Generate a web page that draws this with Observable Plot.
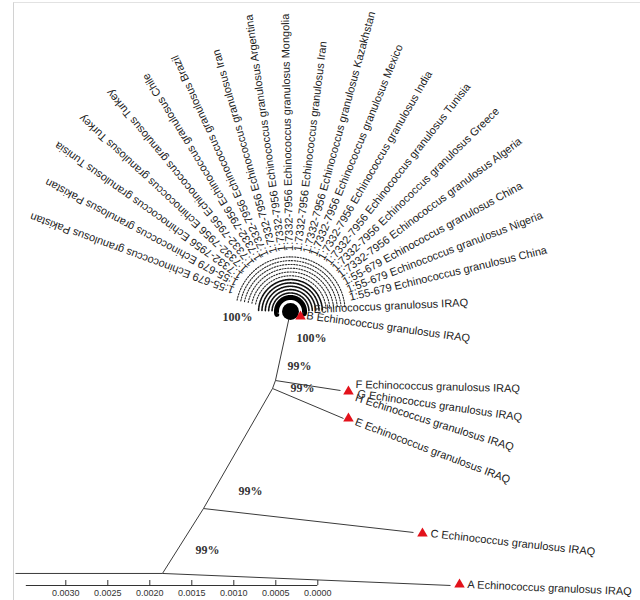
<!DOCTYPE html>
<html><head><meta charset="utf-8">
<script src="https://cdn.jsdelivr.net/npm/d3@7"></script>
<script src="https://cdn.jsdelivr.net/npm/@observablehq/plot@0.6"></script>
<style>
html,body{margin:0;padding:0;background:#fff;}
#wrap{position:relative;width:640px;height:600px;overflow:hidden;}
#wrap svg{display:block;}
#frame{position:absolute;left:13px;top:2px;right:-2px;bottom:-2px;border-left:1px solid #d2d2d2;border-top:1px solid #e2e2e2;pointer-events:none;}
</style></head>
<body><div id="wrap"></div>
<script>
// All distances are in units of 0.0001 substitutions/site (scale bar units).
// x = distance measured leftwards from the 0.0000 mark, y = distance down from top.
const scaleTicks = [30, 25, 20, 15, 10, 5, 0];
const scaleBar = [34.7, 0];

// tree nodes
const nodeNames = ["base", "root", "n1", "n2", "n3", "fan", "A", "C", "E", "FGH"];
const nodeX = [35.99, 18.49, 13.61, 5.39, 5.04, 3.25, -15.80, -11.39, -3.06, -2.70];
const nodeY = [68.21, 68.21, 60.48, 46.19, 45.24, 37.02, 69.64, 63.33, 49.76, 46.43];
const edgeFrom = ["base", "root", "root", "n1", "n1", "n2", "n2", "n3", "n3"];
const edgeTo   = ["root", "A",    "n1",   "C",  "n2", "E",  "n3", "FGH", "fan"];

// IRAQ isolates (triangle markers)
const markerX = [-16.87, -12.46, -3.65, -3.65, 2.06];
const markerY = [69.52, 63.45, 46.55, 49.76, 37.62];

// IRAQ leaf labels
const leafLabels = [
  "A Echinococcus granulosus IRAQ",
  "C Echinococcus granulosus IRAQ",
  "F Echinococcus granulosus IRAQ",
  "G Echinococcus granulosus IRAQ",
  "H Echinococcus granulosus IRAQ",
  "E Echinococcus granulosus IRAQ",
  "Echinococcus granulosus IRAQ",
  "B Echinococcus granulosus IRAQ"
];
const leafX = [-17.82, -13.42, -4.49, -4.73, -4.49, -4.49, 0.51, 1.35];
const leafY = [69.52, 63.45, 45.71, 46.79, 47.26, 50.12, 36.79, 37.50];
const leafAngle = [2.5, 6.4, 1.5, 8.3, 17.6, 20.8, -2.6, 8];

// reference sequences in the collapsed fan
const fanPrefix = [
  "1:55-679", "1:55-679", "1:7332-7956", "1:7332-7956", "1:7332-7956",
  "1:7332-7956", "1:7332-7956", "1:7332-7956", "1:7332-7956", "1:7332-7956",
  "1:7332-7956", "1:7332-7956", "1:7332-7956", "1:7332-7956", "1:7332-7956",
  "1:7332-7956", "1:7332-7956", "1:55-679", "1:55-679", "1:55-679"
];
const fanCountry = [
  "Pakistan", "Pakistan", "Tunisia", "Turkey", "Turkey",
  "Chile", "Brazil", "Iran", "Argentina", "Mongolia",
  "Iran", "Kazakhstan", "Mexico", "India", "Tunisia",
  "Greece", "Algeria", "China", "Nigeria", "China"
];
const fanAngle = [-159.9, -152, -144.5, -137.1, -129.5, -121.5, -114.4, -105.9, -98, -91,
                  -83.1, -74.8, -67.7, -59.9, -51.9, -44.3, -36.7, -28.7, -21, -13.5];
const fanCenter = [3.25, 37.02];
const fanStart = 7.2;

// collapsed core rings of the fan (inner dense, outer sparse)
const coreRingsInner = [2.20, 2.60, 3.00, 3.40, 3.80];
const coreRingsOuter = [4.25, 4.70, 5.15, 5.60, 6.05, 6.50];
const coreBand = 1.67;

// bootstrap support
const bootText = ["100%", "100%", "99%", "99%", "99%", "99%"];
const bootX = [9.56, 0.75, 2.18, 1.82, 8.01, 13.13];
const bootY = [37.74, 40.24, 43.57, 46.19, 58.45, 65.48];

// ---- build tables
const nodes = new Map(nodeNames.map((n, i) => [n, {x: nodeX[i], y: nodeY[i]}]));
const edges = edgeFrom.map((f, i) => ({x1: nodes.get(f).x, y1: nodes.get(f).y, x2: nodes.get(edgeTo[i]).x, y2: nodes.get(edgeTo[i]).y}));
const markers = markerX.map((x, i) => ({x, y: markerY[i]}));
const leaves = leafLabels.map((t, i) => ({t, x: leafX[i], y: leafY[i], a: leafAngle[i]}));
const rad = Math.PI / 180;
const fan = fanCountry.map((c, i) => ({
  t: `${fanPrefix[i]} Echinococcus granulosus ${c}`,
  a: fanAngle[i],
  x: fanCenter[0] - fanStart * Math.cos(fanAngle[i] * rad),
  y: fanCenter[1] + fanStart * Math.sin(fanAngle[i] * rad)
}));
function arc(r, a0, a1, id) {
  const pts = [];
  for (let a = a0; a <= a1 + 1e-9; a += 1.5) pts.push({ring: id, x: fanCenter[0] - r * Math.cos(a * rad), y: fanCenter[1] + r * Math.sin(a * rad)});
  return pts;
}
const ringsInner = coreRingsInner.flatMap((r, i) => arc(r, -178, -2, i));
const ringsOuter = coreRingsOuter.flatMap((r, i) => arc(r, -168, -4, i));
const band = arc(coreBand, -192, 10, "band");
const boots = bootText.map((t, i) => ({t, x: bootX[i], y: bootY[i]}));
const yMax = 585 / 8.4;

const sans = "Liberation Sans, Arial, sans-serif";
const chart = Plot.plot({
  width: 640, height: 600,
  marginLeft: 0, marginRight: 0, marginTop: 0, marginBottom: 15,
  x: {domain: [317.3 / 8.4, -(640 - 317.3) / 8.4], range: [0, 640]},
  y: {domain: [0, yMax], range: [0, 585], axis: null},
  style: {fontFamily: sans, background: "#fff", overflow: "visible"},
  marks: [
    Plot.line(ringsOuter, {x: "x", y: "y", z: "ring", stroke: "#2a2a2a", strokeWidth: 1.1, strokeDasharray: "1.3 1.5"}),
    Plot.line(ringsInner, {x: "x", y: "y", z: "ring", stroke: "#111", strokeWidth: 1.6, strokeDasharray: "2 0.9"}),
    Plot.text(fan, {x: "x", y: "y", text: "t", rotate: "a", textAnchor: "start", lineAnchor: "middle", fontSize: 11, fill: "#222"}),
    Plot.link(edges, {x1: "x1", y1: "y1", x2: "x2", y2: "y2", stroke: "#3a3a3a", strokeWidth: 1}),
    Plot.line(band, {x: "x", y: "y", stroke: "#000", strokeWidth: 5}),
    Plot.dot([fanCenter], {x: d => d[0], y: d => d[1], r: 8.5, fill: "#000"}),
    Plot.text(leaves, {x: "x", y: "y", text: "t", rotate: "a", textAnchor: "start", lineAnchor: "middle", fontSize: 11, fill: "#222"}),
    Plot.dot(markers, {x: "x", y: "y", symbol: "triangle", r: 3.9, fill: "#e3121b", stroke: "none"}),
    Plot.text(boots, {x: "x", y: "y", text: "t", fontSize: 12, fontWeight: "bold", fontFamily: "Liberation Serif, Times New Roman, serif", fill: "#333"}),
    Plot.ruleY([yMax], {x1: scaleBar[0], x2: scaleBar[1], stroke: "#333", strokeWidth: 1}),
    Plot.ruleX(scaleTicks, {x: d => d, y1: yMax - 5 / 8.4, y2: yMax, stroke: "#333"}),
    Plot.axisX(scaleTicks, {tickSize: 0, tickPadding: 4, tickFormat: d => (d / 1e4).toFixed(4), fontSize: 9, fill: "#333", label: null})
  ]
});
const wrap = document.getElementById("wrap");
wrap.appendChild(chart);
const frame = document.createElement("div");
frame.id = "frame";
wrap.appendChild(frame);
</script>
</body></html>
